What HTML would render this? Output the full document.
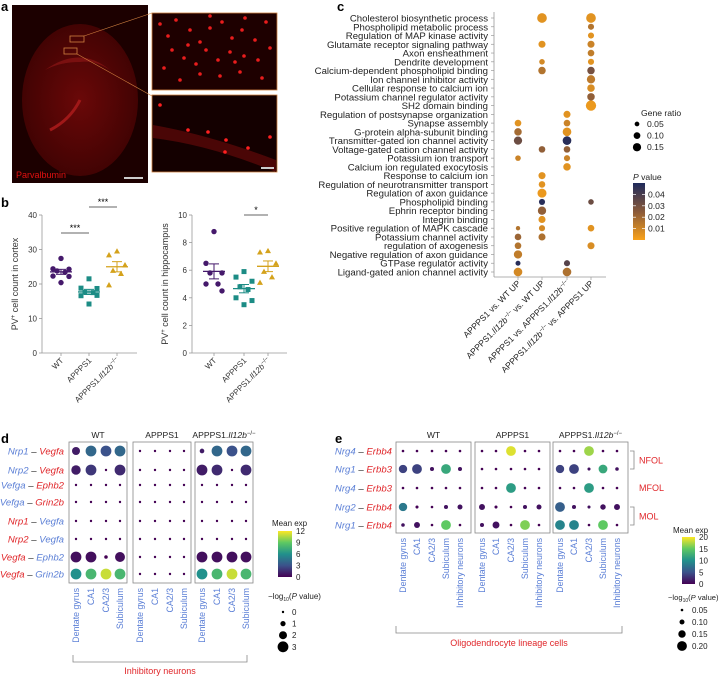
<!DOCTYPE html>
<html><head><meta charset="utf-8"><style>
html,body{margin:0;padding:0;background:#fff}
svg{display:block;font-family:"Liberation Sans",sans-serif}
</style></head><body>
<svg id="fig" width="721" height="678" viewBox="0 0 721 678" xmlns="http://www.w3.org/2000/svg">
<defs>
<radialGradient id="brainG" cx="0.5" cy="0.5" r="0.6"><stop offset="0" stop-color="#6a0808"/><stop offset="1" stop-color="#3a0202"/></radialGradient>
<linearGradient id="pcb" x1="0" y1="1" x2="0" y2="0"><stop offset="0" stop-color="#f9a21a"/><stop offset="0.5" stop-color="#8a5a3a"/><stop offset="1" stop-color="#1f2a5c"/></linearGradient>
<linearGradient id="vir" x1="0" y1="1" x2="0" y2="0"><stop offset="0" stop-color="#440154"/><stop offset="0.25" stop-color="#3b528b"/><stop offset="0.5" stop-color="#21918c"/><stop offset="0.75" stop-color="#5ec962"/><stop offset="1" stop-color="#fde725"/></linearGradient>
</defs>
<g>
<text x="1" y="11" font-size="13" font-weight="bold">a</text>
<rect x="12" y="5" width="136" height="178" fill="#1c0000"/>
<ellipse cx="80" cy="100" rx="58" ry="76" fill="url(#brainG)"/>
<path d="M45,70 Q80,45 110,70 Q95,60 80,62 Q60,62 45,70Z" fill="#7a1010"/>
<path d="M50,130 Q70,120 80,100" stroke="#a01818" stroke-width="3" fill="none"/>
<rect x="70" y="36" width="14" height="6" fill="none" stroke="#d08040" stroke-width="0.8"/>
<rect x="64" y="48" width="13" height="6" fill="none" stroke="#d08040" stroke-width="0.8"/>
<line x1="84" y1="36" x2="152" y2="13" stroke="#d08040" stroke-width="0.6"/>
<line x1="77" y1="54" x2="152" y2="96" stroke="#d08040" stroke-width="0.6"/>
<rect x="152" y="13" width="125" height="77" fill="#1e0000" stroke="#d08040" stroke-width="0.8"/>
<rect x="152" y="95" width="125" height="77" fill="#140000" stroke="#d08040" stroke-width="0.8"/>
<path d="M153,125 Q210,135 276,160 L276,172 Q210,145 153,138Z" fill="#4a0606"/>
<g id="cellsA" fill="#ff2020"></g>
<text x="16" y="178" font-size="9" fill="#e01010">Parvalbumin</text>
<rect x="124" y="177" width="19" height="2" fill="#ccc"/>
<rect x="261" y="167" width="13" height="2" fill="#ccc"/>
</g>
<g id="panelB">
<text x="1" y="207" font-size="13" font-weight="bold">b</text>
</g>
<g id="panelC">
<text x="337" y="11" font-size="13" font-weight="bold">c</text>
</g>
<g id="panelD">
<text x="1" y="443" font-size="13" font-weight="bold">d</text>
</g>
<g id="panelE">
<text x="335" y="443" font-size="13" font-weight="bold">e</text>
</g>
</svg>
<script>
// ---------- panel b data ----------
const bGroups = ["WT","APPPS1","APPPS1.Il12b−/−"];
const cortexWT = [27.4,24.4,24.3,23.8,23.4,22.3,22.2,20.4];
const cortexAPP = [21.5,18.8,18.7,17.6,17.5,16.6,16.7,14.2];
const cortexIL = [29.5,28.4,25.5,23.9,23.0,19.7];
const hippoWT = [8.8,6.5,5.8,5.8,5.0,5.0,4.5];
const hippoAPP = [5.9,5.5,5.2,4.8,4.6,4.0,3.8,3.5];
const hippoIL = [7.4,7.3,6.5,5.9,5.5,5.1];
const cortexTicks = [0,10,20,30,40];
const hippoTicks = [0,2,4,6,8,10];
// ---------- panel c data ----------
const cTerms = ["Cholesterol biosynthetic process","Phospholipid metabolic process","Regulation of MAP kinase activity","Glutamate receptor signaling pathway","Axon ensheathment","Dendrite development","Calcium-dependent phospholipid binding","Ion channel inhibitor activity","Cellular response to calcium ion","Potassium channel regulator activity","SH2 domain binding","Regulation of postsynapse organization","Synapse assembly","G-protein alpha-subunit binding","Transmitter-gated ion channel activity","Voltage-gated cation channel activity","Potassium ion transport","Calcium ion regulated exocytosis","Response to calcium ion","Regulation of neurotransmitter transport","Regulation of axon guidance","Phospholipid binding","Ephrin receptor binding","Integrin binding","Positive regulation of MAPK cascade","Potassium channel activity","regulation of axogenesis","Negative regulation of axon guidance","GTPase regulator activity","Ligand-gated anion channel activity"];
const cComparisons = ["APPPS1 vs. WT UP","APPPS1.Il12b−/− vs. WT UP","APPPS1 vs. APPPS1.Il12b−/−","APPPS1.Il12b−/− vs. APPPS1 UP"];
const cRow = [12,13,14,16,24,25,26,27,28,29, 0,3,5,6,15,18,19,20,21,22,23,24,25, 11,12,13,14,15,16,17,28,29, 0,1,2,3,4,5,6,7,8,9,10,21,24,26];
const cCol = [0,0,0,0,0,0,0,0,0,0, 1,1,1,1,1,1,1,1,1,1,1,1,1, 2,2,2,2,2,2,2,2,2, 3,3,3,3,3,3,3,3,3,3,3,3,3,3];
const cRatio = [.07,.09,.11,.05,.03,.07,.07,.11,.04,.12, .15,.08,.05,.09,.07,.08,.07,.13,.06,.11,.08,.06,.08, .08,.07,.12,.12,.07,.06,.09,.06,.12, .15,.06,.06,.08,.07,.06,.09,.11,.09,.09,.17,.05,.07,.08];
const cP = [.005,.018,.03,.01,.015,.02,.015,.012,.045,.008, .005,.005,.008,.015,.022,.005,.005,.003,.045,.022,.005,.008,.016, .005,.01,.005,.045,.022,.01,.005,.035,.016, .005,.015,.005,.01,.012,.005,.028,.013,.007,.022,.003,.03,.005,.007];
const cRatioLegend = [0.05,0.10,0.15];
const cPTicks = [0.01,0.02,0.03,0.04];
// ---------- panel d data ----------
const dPairsA = ["Nrp1","Nrp2","Vefga","Vefga","Nrp1","Nrp2","Vegfa","Vegfa"];
const dPairsB = ["Vegfa","Vegfa","Ephb2","Grin2b","Vegfa","Vegfa","Ephb2","Grin2b"];
const dAColor = ["b","b","b","b","r","r","r","r"];
const dGroups = ["WT","APPPS1","APPPS1.Il12b−/−"];
const dRegions = ["Dentate gyrus","CA1","CA2/3","Subiculum"];
const dExp = [
 [1,4,3,4, 0,0,0,0, 1,4,3,4],
 [1,2,0,1.5, 0,0,0,0, 1,1.5,0,1.5],
 [0,0,0,0, 0,0,0,0, 0,0,0,0],
 [0,0,0,0, 0,0,0,0, 0,0,0,0],
 [0,0,0,0, 0,0,0,0, 0,0,0,0],
 [0,0,0,0, 0,0,0,0, 0,0,0,0],
 [0.5,0.5,0,0.5, 0,0,0,0, 0.5,0.5,0.5,0.5],
 [6,8,11,8, 0,0,0,0, 6,8,11,8]];
const dSize = [
 [2,3,3,3, 0,0,0,0, 0.8,3,3,3],
 [2.5,3,0,3, 0,0,0,0, 3,3,0,3],
 [0,0,0,0, 0,0,0,0, 0,0,0,0],
 [0,0,0,0, 0,0,0,0, 0,0,0,0],
 [0,0,0,0, 0,0,0,0, 0,0,0,0],
 [0,0,0,0, 0,0,0,0, 0,0,0,0],
 [3,3,0.4,2.7, 0,0,0,0, 3,3,3,3],
 [3,3,3,3, 0,0,0,0, 3,3,3,3]];
const dExpTicks = [0,3,6,9,12];
const dSizeLegend = [0,1,2,3];
// ---------- panel e data ----------
const ePairsA = ["Nrg4","Nrg1","Nrg4","Nrg2","Nrg1"];
const ePairsB = ["Erbb4","Erbb3","Erbb3","Erbb4","Erbb4"];
const eRegions = ["Dentate gyrus","CA1","CA2/3","Subiculum","Inhibitory neurons"];
const eExp = [
 [0,0,0,0,0, 0,0,19,0,0, 0,0,17,0,0],
 [4,4,1,12,1, 0,0,0,0,0, 4,4,1,12,1],
 [0,0,0,0,0, 0,0,11,0,0, 0,0,11,0,0],
 [8,0,0,1,1, 1,0,0,1,1, 6,1,1,1,1],
 [1,1,0,15,0, 1,1,0,16,0, 9,9,0,15,0]];
const eSize = [
 [.05,.05,.05,.05,.05, .05,.05,.2,.05,.05, .05,.05,.2,.05,.05],
 [.17,.2,.08,.2,.08, .05,.05,.05,.05,.05, .17,.2,.06,.18,.07],
 [.05,.05,.05,.05,.05, .05,.05,.2,.05,.05, .05,.05,.2,.05,.05],
 [.17,.06,.05,.08,.1, .12,.06,.05,.08,.1, .2,.08,.06,.11,.12],
 [.07,.12,.05,.2,.05, .08,.14,.05,.2,.05, .2,.2,.05,.2,.05]];
const eExpTicks = [0,5,10,15,20];
const eSizeLegend = [0.05,0.10,0.15,0.20];

const NS="http://www.w3.org/2000/svg";
function mk(parent,tag,attrs,text){const e=document.createElementNS(NS,tag);for(const k in attrs)e.setAttribute(k,attrs[k]);if(text!==undefined)e.textContent=text;parent.appendChild(e);return e;}
function ital(el,parts){parts.forEach(p=>{const t=document.createElementNS(NS,'tspan');if(p[1])t.setAttribute('font-style','italic');if(p[2])t.setAttribute('baseline-shift','super'),t.setAttribute('font-size','6');t.textContent=p[0];el.appendChild(t);});}

// panel a decorative cells
(function(){const g=document.getElementById('cellsA');
const pts=[[160,24],[168,36],[176,20],[190,30],[200,42],[210,28],[222,22],[232,38],[242,30],[255,40],[266,22],[270,48],[258,60],[244,56],[230,52],[218,60],[206,50],[196,64],[184,58],[172,50],[164,68],[180,80],[200,74],[220,76],[240,72],[262,78],[210,16],[245,18],[188,45],[235,62]];
pts.forEach(p=>mk(g,'circle',{cx:p[0],cy:p[1],r:1.8,opacity:0.9}));
[[160,105],[188,130],[208,132],[226,140],[248,148],[270,137],[225,152]].forEach(p=>mk(g,'circle',{cx:p[0],cy:p[1],r:1.8}));})();

// ---------- panel b ----------
const bCol=["#45196b","#1c8c85","#d4a21c"];
function drawB(g,ax,x0,x1,ymin,ymax,vmax,ticks,sets,title,name,sigs,xs){
 const y=v=>ymax-(v/vmax)*(ymax-ymin);
 const ga=mk(g,'g',{});  
 mk(ga,'line',{x1:ax,y1:ymin,x2:ax,y2:ymax,stroke:'#999','stroke-width':0.8});
 mk(ga,'line',{x1:ax,y1:ymax,x2:x1,y2:ymax,stroke:'#999','stroke-width':0.8});
 ticks.forEach(t=>{mk(ga,'line',{x1:ax-3,y1:y(t),x2:ax,y2:y(t),stroke:'#999','stroke-width':0.8});
  const tl=mk(ga,'text',{x:ax-5,y:y(t)+3,'font-size':8,'text-anchor':'end',fill:'#333'},t);
   });
 const tt=mk(ga,'text',{transform:`translate(${ax-24},${(ymin+ymax)/2}) rotate(-90)`,'font-size':9,'text-anchor':'middle',fill:'#333'});
 ital(tt,[["PV",0],["+",0,1],[" cell count in "+title,0]]);
  
 const jit=[0,-8,8,-4,4,-8,8,0];
 sets.forEach((d,gi)=>{const cx=xs[gi];
  mk(ga,'line',{x1:cx,y1:ymax,x2:cx,y2:ymax+3,stroke:'#999','stroke-width':0.8});
  const xl=mk(ga,'text',{transform:`translate(${cx+3},${ymax+8}) rotate(-45)`,'font-size':8,'text-anchor':'end',fill:'#333'});
  if(gi==2) ital(xl,[["APPPS1.",0],["Il12b",1],["−/−",0,1]]); else xl.textContent=bGroups[gi];
   
  d.forEach((v,i)=>{const px=cx+jit[i%jit.length],py=y(v);let m;
   if(gi==0)m=mk(ga,'circle',{cx:px,cy:py,r:2.7,fill:bCol[0]});
   else if(gi==1)m=mk(ga,'rect',{x:px-2.5,y:py-2.5,width:5,height:5,fill:bCol[1]});
   else m=mk(ga,'path',{d:`M${px},${py-3}L${px+3},${py+2.3}L${px-3},${py+2.3}Z`,fill:bCol[2]});
    });
  const mean=d.reduce((a,b)=>a+b,0)/d.length;
  const sd=Math.sqrt(d.reduce((a,b)=>a+(b-mean)**2,0)/(d.length-1)),se=sd/Math.sqrt(d.length);
  const mb=mk(ga,'line',{x1:cx-11,y1:y(mean),x2:cx+11,y2:y(mean),stroke:bCol[gi],'stroke-width':1.3});
   
  mk(ga,'line',{x1:cx,y1:y(mean+se),x2:cx,y2:y(mean-se),stroke:bCol[gi],'stroke-width':1});
  mk(ga,'line',{x1:cx-5,y1:y(mean+se),x2:cx+5,y2:y(mean+se),stroke:bCol[gi],'stroke-width':1});
  mk(ga,'line',{x1:cx-5,y1:y(mean-se),x2:cx+5,y2:y(mean-se),stroke:bCol[gi],'stroke-width':1});
 });
 sigs.forEach(s=>{const l=mk(ga,'line',{x1:xs[s[0]],y1:s[2],x2:xs[s[1]],y2:s[2],stroke:'#333','stroke-width':0.7});
   
  mk(ga,'text',{x:(xs[s[0]]+xs[s[1]])/2,y:s[2]-2,'font-size':9,'text-anchor':'middle'},s[3]);});
}
const gB=document.getElementById('panelB');
drawB(gB,42,42,137,215,353,40,cortexTicks,[cortexWT,cortexAPP,cortexIL],'cortex','cortex-chart',[[0,1,233,'***'],[1,2,207,'***']],[61,89,117]);
drawB(gB,192,192,287,215,353,10,hippoTicks,[hippoWT,hippoAPP,hippoIL],'hippocampus','hippocampus-chart',[[1,2,215,'*']],[214,244,268]);

// ---------- panel c ----------
function lerp(a,b,t){return a.map((v,i)=>Math.round(v+(b[i]-v)*t));}
function pColor(p){const t=Math.min(1,Math.max(0,p/0.047));const o=[249,162,26],m=[138,90,58],n=[31,42,92];
 const c=t<0.5?lerp(o,m,t/0.5):lerp(m,n,(t-0.5)/0.5);return `rgb(${c[0]},${c[1]},${c[2]})`;}
(function(){const g=document.getElementById('panelC');
 const ax=494,y0=18,step=(272-18)/29,colX=[518,542,567,591];
 const ry=i=>y0+i*step; const rr=r=>Math.sqrt(r)*12.5;
 mk(g,'line',{x1:ax,y1:12,x2:ax,y2:277,stroke:'#999','stroke-width':0.8});
 mk(g,'line',{x1:ax,y1:277,x2:606,y2:277,stroke:'#999','stroke-width':0.8});
 cTerms.forEach((t,i)=>{mk(g,'line',{x1:ax-3,y1:ry(i),x2:ax,y2:ry(i),stroke:'#999','stroke-width':0.7});
  const tl=mk(g,'text',{x:ax-6,y:ry(i)+3.5,'font-size':9.6,'text-anchor':'end',fill:'#222'},t);
   });
 cComparisons.forEach((c,j)=>{mk(g,'line',{x1:colX[j],y1:277,x2:colX[j],y2:280,stroke:'#999','stroke-width':0.7});
  const tl=mk(g,'text',{transform:`translate(${colX[j]+3},${284}) rotate(-45)`,'font-size':8.6,'text-anchor':'end',fill:'#222'});
  if(j==0) tl.textContent=c;
  else if(j==1) ital(tl,[["APPPS1.",0],["Il12b",1],["−/−",0,1],[" vs. WT UP",0]]);
  else if(j==2) ital(tl,[["APPPS1 vs. APPPS1.",0],["Il12b",1],["−/−",0,1]]);
  else ital(tl,[["APPPS1.",0],["Il12b",1],["−/−",0,1],[" vs. APPPS1 UP",0]]);
   });
 cRow.forEach((r,k)=>{const d=mk(g,'circle',{cx:colX[cCol[k]],cy:ry(r),r:rr(cRatio[k]),fill:pColor(cP[k])});
   });
 const gl=mk(g,'g',{});  
 mk(gl,'text',{x:641,y:116,'font-size':8.6,fill:'#222'},'Gene ratio');
 cRatioLegend.forEach((v,i)=>{const yy=124+i*11.6;mk(gl,'circle',{cx:637,cy:yy,r:rr(v)*0.85,fill:'#000'});
  mk(gl,'text',{x:647,y:yy+3,'font-size':8.6,fill:'#222'},v.toFixed(2));});
 const gp=mk(g,'g',{});  
 const pt=mk(gp,'text',{x:633,y:180,'font-size':8.6,fill:'#222'}); ital(pt,[["P",1],[" value",0]]);
 mk(gp,'rect',{x:633,y:183,width:12,height:57,fill:'url(#pcb)'});
 cPTicks.forEach(v=>{const yy=240-(v/0.05)*57;mk(gp,'line',{x1:633,y1:yy,x2:636,y2:yy,stroke:'#fff','stroke-width':0.7});mk(gp,'line',{x1:642,y1:yy,x2:645,y2:yy,stroke:'#fff','stroke-width':0.7});
  mk(gp,'text',{x:648,y:yy+3,'font-size':8.6,fill:'#222'},v.toFixed(2));});
})();

// viridis
const VIR=[[68,1,84],[59,82,139],[33,145,140],[94,201,98],[253,231,37]];
function vir(t){t=Math.min(1,Math.max(0,t));const s=t*4,i=Math.min(3,Math.floor(s));const c=lerp(VIR[i],VIR[i+1],s-i);return `rgb(${c[0]},${c[1]},${c[2]})`;}
const BLUE="#5b7fd6",RED="#e0262a";

// ---------- panel d ----------
(function(){const g=document.getElementById('panelD');
 const boxX=[69,133,195],boxW=58,colOff=[7,22,37,51],rowY=[451,470,485,502,521,539,557,574];
 dGroups.forEach((gn,gi)=>{const b=mk(g,'rect',{x:boxX[gi],y:442,width:boxW,height:141,fill:'none',stroke:'#888','stroke-width':0.8});
   
  const t=mk(g,'text',{x:boxX[gi]+boxW/2,y:438,'font-size':8.6,'text-anchor':'middle',fill:'#222'});
  if(gi==2) ital(t,[["APPPS1.",0],["Il12b",1],["−/−",0,1]]); else t.textContent=gn;
   
  dRegions.forEach((r,ri)=>{const x=boxX[gi]+colOff[ri];
   const tl=mk(g,'text',{transform:`translate(${x+3},588) rotate(-90)`,'font-size':8.8,'text-anchor':'end',fill:BLUE},r);
    });});
 rowY.forEach((yy,ri)=>{const t=mk(g,'text',{x:64,y:yy+3.5,'font-size':9.6,'text-anchor':'end','font-style':'italic'});
  const a=document.createElementNS(NS,'tspan');a.setAttribute('fill',dAColor[ri]=='r'?RED:BLUE);a.textContent=dPairsA[ri];t.appendChild(a);
  const dash=document.createElementNS(NS,'tspan');dash.setAttribute('fill','#222');dash.setAttribute('font-style','normal');dash.textContent=' – ';t.appendChild(dash);
  const b=document.createElementNS(NS,'tspan');b.setAttribute('fill',dAColor[ri]=='r'?BLUE:RED);b.textContent=dPairsB[ri];t.appendChild(b);
   
  for(let c=0;c<12;c++){const gi=Math.floor(c/4),x=boxX[gi]+colOff[c%4];
   const d=mk(g,'circle',{cx:x,cy:yy,r:1.2+dSize[ri][c]*1.4,fill:vir(dExp[ri][c]/12)});
    }});
 const cb=mk(g,'g',{});  
 mk(cb,'text',{x:272,y:526,'font-size':8,fill:'#222'},'Mean exp');
 mk(cb,'rect',{x:278,y:531,width:14,height:46,fill:'url(#vir)'});
 dExpTicks.forEach(v=>{const yy=577-v/12*46;mk(cb,'text',{x:296,y:yy+3,'font-size':8,fill:'#222'},v);});
 const sl=mk(g,'g',{});  
 const st=mk(sl,'text',{x:268,y:599,'font-size':8,fill:'#222'}); ital(st,[["−log",0]]);
 const sub=document.createElementNS(NS,'tspan');sub.setAttribute('font-size','5');sub.setAttribute('dy','2');sub.textContent='10';st.appendChild(sub);
 const s2=document.createElementNS(NS,'tspan');s2.setAttribute('dy','-2');s2.textContent='(';st.appendChild(s2);
 const s3=document.createElementNS(NS,'tspan');s3.setAttribute('font-style','italic');s3.textContent='P';st.appendChild(s3);
 const s4=document.createElementNS(NS,'tspan');s4.textContent=' value)';st.appendChild(s4);
 dSizeLegend.forEach((v,i)=>{const yy=612+i*11.6;mk(sl,'circle',{cx:283,cy:yy,r:1.2+v*1.4,fill:'#000'});mk(sl,'text',{x:292,y:yy+3,'font-size':8,fill:'#222'},v);});
 const br=mk(g,'path',{d:'M73,655 V662 H247 V655',fill:'none',stroke:'#888','stroke-width':0.8});
  
 const bt=mk(g,'text',{x:160,y:674,'font-size':9,'text-anchor':'middle',fill:RED},'Inhibitory neurons');
  
})();

// ---------- panel e ----------
(function(){const g=document.getElementById('panelE');
 const boxX=[396,475,553],boxW=75,colOff=[7,21,36,50,64],rowY=[451,469,488,507,525];
 dGroups.forEach((gn,gi)=>{const b=mk(g,'rect',{x:boxX[gi],y:442,width:boxW,height:91,fill:'none',stroke:'#888','stroke-width':0.8});
   
  const t=mk(g,'text',{x:boxX[gi]+boxW/2,y:438,'font-size':8.6,'text-anchor':'middle',fill:'#222'});
  if(gi==2) ital(t,[["APPPS1.",0],["Il12b",1],["−/−",0,1]]); else t.textContent=gn;
   
  eRegions.forEach((r,ri)=>{const x=boxX[gi]+colOff[ri];
   const tl=mk(g,'text',{transform:`translate(${x+3},538) rotate(-90)`,'font-size':8.8,'text-anchor':'end',fill:BLUE},r);
    });});
 rowY.forEach((yy,ri)=>{const t=mk(g,'text',{x:392,y:yy+3.5,'font-size':9.6,'text-anchor':'end','font-style':'italic'});
  const a=document.createElementNS(NS,'tspan');a.setAttribute('fill',BLUE);a.textContent=ePairsA[ri];t.appendChild(a);
  const dash=document.createElementNS(NS,'tspan');dash.setAttribute('fill','#222');dash.setAttribute('font-style','normal');dash.textContent=' – ';t.appendChild(dash);
  const b=document.createElementNS(NS,'tspan');b.setAttribute('fill',RED);b.textContent=ePairsB[ri];t.appendChild(b);
   
  for(let c=0;c<15;c++){const gi=Math.floor(c/5),x=boxX[gi]+colOff[c%5];
   const d=mk(g,'circle',{cx:x,cy:yy,r:1.3+(eSize[ri][c]-0.05)*24,fill:vir(eExp[ri][c]/20)});
    }});
 [['NFOL',451,469],['MOL',507,525]].forEach(s=>{const p=mk(g,'path',{d:`M630,${s[1]} H634 V${s[2]} H630`,fill:'none',stroke:'#888','stroke-width':0.8});
   
  const t=mk(g,'text',{x:639,y:(s[1]+s[2])/2+3.5,'font-size':9,fill:RED},s[0]);
   });
 const mt=mk(g,'text',{x:639,y:491,'font-size':9,fill:RED},'MFOL');
  
 const cb=mk(g,'g',{});  
 mk(cb,'text',{x:673,y:533,'font-size':8,fill:'#222'},'Mean exp');
 mk(cb,'rect',{x:682,y:537,width:13,height:47,fill:'url(#vir)'});
 eExpTicks.forEach(v=>{const yy=584-v/20*47;mk(cb,'text',{x:699,y:yy+3,'font-size':8,fill:'#222'},v);});
 const sl=mk(g,'g',{});  
 const st=mk(sl,'text',{x:668,y:600,'font-size':7.6,fill:'#222'}); st.textContent='−log';
 const sub=document.createElementNS(NS,'tspan');sub.setAttribute('font-size','5');sub.setAttribute('dy','2');sub.textContent='10';st.appendChild(sub);
 const s2=document.createElementNS(NS,'tspan');s2.setAttribute('dy','-2');s2.textContent='(';st.appendChild(s2);
 const s3=document.createElementNS(NS,'tspan');s3.setAttribute('font-style','italic');s3.textContent='P';st.appendChild(s3);
 const s4=document.createElementNS(NS,'tspan');s4.textContent=' value)';st.appendChild(s4);
 eSizeLegend.forEach((v,i)=>{const yy=610+i*12;mk(sl,'circle',{cx:682,cy:yy,r:1.3+(v-0.05)*24,fill:'#000'});mk(sl,'text',{x:692,y:yy+3,'font-size':8,fill:'#222'},v.toFixed(2));});
 const br=mk(g,'path',{d:'M396,626 V633 H622 V626',fill:'none',stroke:'#888','stroke-width':0.8});
  
 const bt=mk(g,'text',{x:509,y:646,'font-size':9,'text-anchor':'middle',fill:RED},'Oligodendrocyte lineage cells');
  
})();
</script>
</body></html>
